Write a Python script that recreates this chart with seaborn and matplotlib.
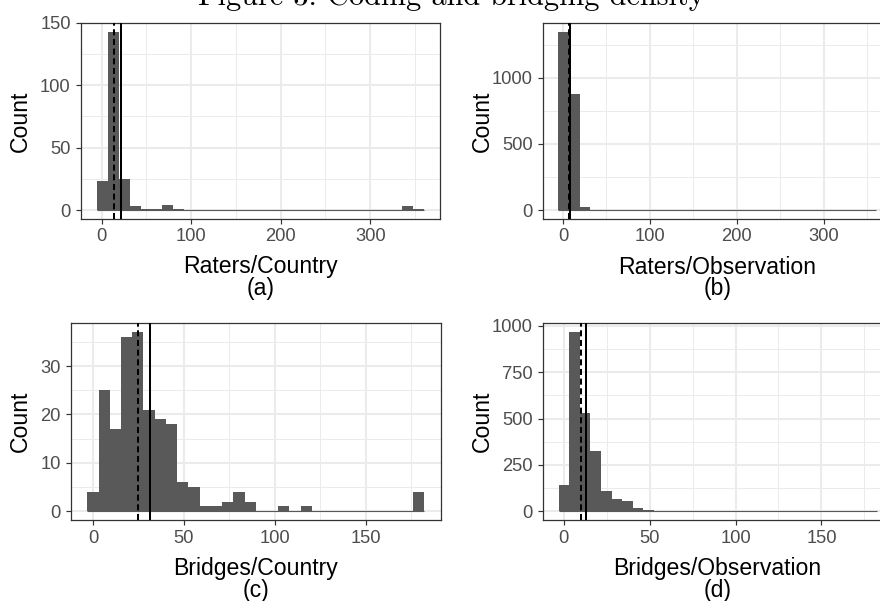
import numpy as np
import pandas as pd
import matplotlib
matplotlib.use("Agg")
import matplotlib.pyplot as plt
import seaborn as sns
from matplotlib.ticker import MultipleLocator

# Counts in each of the 30 histogram bins
raters_country = [23, 143, 25, 3, 1, 1, 4, 1, 0, 0, 0, 0, 0, 0, 0,
                  0, 0, 0, 0, 0, 0, 0, 0, 0, 0, 0, 0, 0, 3, 1]
raters_obs = [1348, 880, 26, 0, 0, 0, 0, 0, 0, 0, 0, 0, 0, 0, 0,
              0, 0, 0, 0, 0, 0, 0, 0, 0, 0, 0, 0, 0, 0, 1]
bridges_country = [4, 25, 17, 36, 37, 21, 19, 18, 6, 5, 1, 1, 2, 4, 2,
                   0, 0, 1, 0, 1, 0, 0, 0, 0, 0, 0, 0, 0, 0, 4]
bridges_obs = [142, 966, 531, 324, 110, 66, 56, 16, 7, 0, 0, 0, 0, 0, 0,
               0, 0, 0, 0, 0, 0, 0, 0, 0, 0, 0, 0, 0, 0, 1]

# Smallest and largest observed value of each variable (bins centred on them)
raters_range = (1, 354)
bridges_range = (0, 179)

# Median (dashed) and mean (solid) of each variable
raters_country_median, raters_country_mean = 13.7, 21.9
raters_obs_median, raters_obs_mean = 6.5, 8.4
bridges_country_median, bridges_country_mean = 24.9, 31.1
bridges_obs_median, bridges_obs_mean = 10.1, 13.2

x_titles = ["Raters/Country", "Raters/Observation", "Bridges/Country", "Bridges/Observation"]
tags = ["(a)", "(b)", "(c)", "(d)"]
title = "Figure 3: Coding and bridging density"

sns.set_theme(style="white")
plt.rcParams["font.family"] = ["Liberation Sans", "DejaVu Sans"]

W, H = 880, 601
fig = plt.figure(figsize=(W / 100, H / 100), dpi=100)


def px_axes(left, top, right, bottom):
    return fig.add_axes([left / W, 1 - bottom / H, (right - left) / W, (bottom - top) / H])


panels = [
    dict(counts=raters_country, rng=raters_range,
         stats=(raters_country_median, raters_country_mean),
         box=(80.7, 22.7, 440.4, 219.0), xmaj=100, ymaj=50, ylab_x=20.5, xlab_top=255.5),
    dict(counts=raters_obs, rng=raters_range,
         stats=(raters_obs_median, raters_obs_mean),
         box=(542.6, 22.7, 892.0, 219.0), xmaj=100, ymaj=500, ylab_x=482, xlab_top=255.5),
    dict(counts=bridges_country, rng=bridges_range,
         stats=(bridges_country_median, bridges_country_mean),
         box=(70.5, 323.3, 441.1, 520.2), xmaj=50, ymaj=10, ylab_x=20.5, xlab_top=557),
    dict(counts=bridges_obs, rng=bridges_range,
         stats=(bridges_obs_median, bridges_obs_mean),
         box=(542.6, 323.3, 892.4, 520.2), xmaj=50, ymaj=250, ylab_x=482, xlab_top=557),
]

bar_color = "#595959"
dark = "#333333"

for i, p in enumerate(panels):
    ax = px_axes(*p["box"])
    lo, hi = p["rng"]
    counts = np.asarray(p["counts"], dtype=float)
    nb = len(counts)
    w = (hi - lo) / (nb - 1)
    edges = lo - w / 2 + w * np.arange(nb + 1)
    centers = edges[:-1] + w / 2
    df = pd.DataFrame({"value": centers, "n": counts})

    ax.set_axisbelow(True)
    sns.histplot(data=df, x="value", weights="n", bins=edges.tolist(), ax=ax,
                 color=bar_color, alpha=1, linewidth=0, edgecolor="none",
                 stat="count", zorder=2)
    # empty bins still leave a hairline along zero
    ax.hlines(0, edges[0], edges[-1], color=bar_color, lw=0.8, zorder=2)

    med, mean = p["stats"]
    ax.axvline(med, color="black", lw=1.45, dashes=(3, 1.8), zorder=3)
    ax.axvline(mean, color="black", lw=1.45, zorder=3)

    span = edges[-1] - edges[0]
    ax.set_xlim(edges[0] - 0.05 * span, edges[-1] + 0.05 * span)
    ymax = counts.max()
    ax.set_ylim(-0.05 * ymax, 1.05 * ymax)

    ax.xaxis.set_major_locator(MultipleLocator(p["xmaj"]))
    ax.xaxis.set_minor_locator(MultipleLocator(p["xmaj"] / 2))
    ax.yaxis.set_major_locator(MultipleLocator(p["ymaj"]))
    ax.yaxis.set_minor_locator(MultipleLocator(p["ymaj"] / 2))

    ax.grid(which="major", color="#EBEBEB", lw=1.45)
    ax.grid(which="minor", color="#EBEBEB", lw=0.72)
    ax.tick_params(which="major", length=3.6, width=0.85, color=dark,
                   labelsize=13.2, labelcolor="#4D4D4D",
                   bottom=True, left=True)
    ax.tick_params(axis="x", which="major", pad=3.1)
    ax.tick_params(axis="y", which="major", pad=3.6)
    ax.tick_params(which="minor", length=0)
    for s in ax.spines.values():
        s.set_color(dark)
        s.set_linewidth(0.9)

    ax.set_xlabel(x_titles[i] + "\n" + tags[i], fontsize=16.6, color="black",
                  linespacing=0.92)
    ax.set_ylabel("Count", fontsize=16.6, color="black")
    left, top, right, bottom = p["box"]
    ax.yaxis.set_label_coords((p["ylab_x"] - left) / (right - left), 0.5)
    ax.xaxis.set_label_coords(0.5, -(p["xlab_top"] - bottom) / (bottom - top))
    ax.xaxis.label.set_verticalalignment("top")
    ax.yaxis.label.set_verticalalignment("center")

fig.text(451 / W, 1 - 5 / H, title, family="cmr10", fontsize=21.8,
         ha="center", va="baseline", color="black")

fig.savefig("out.png", dpi=100)
